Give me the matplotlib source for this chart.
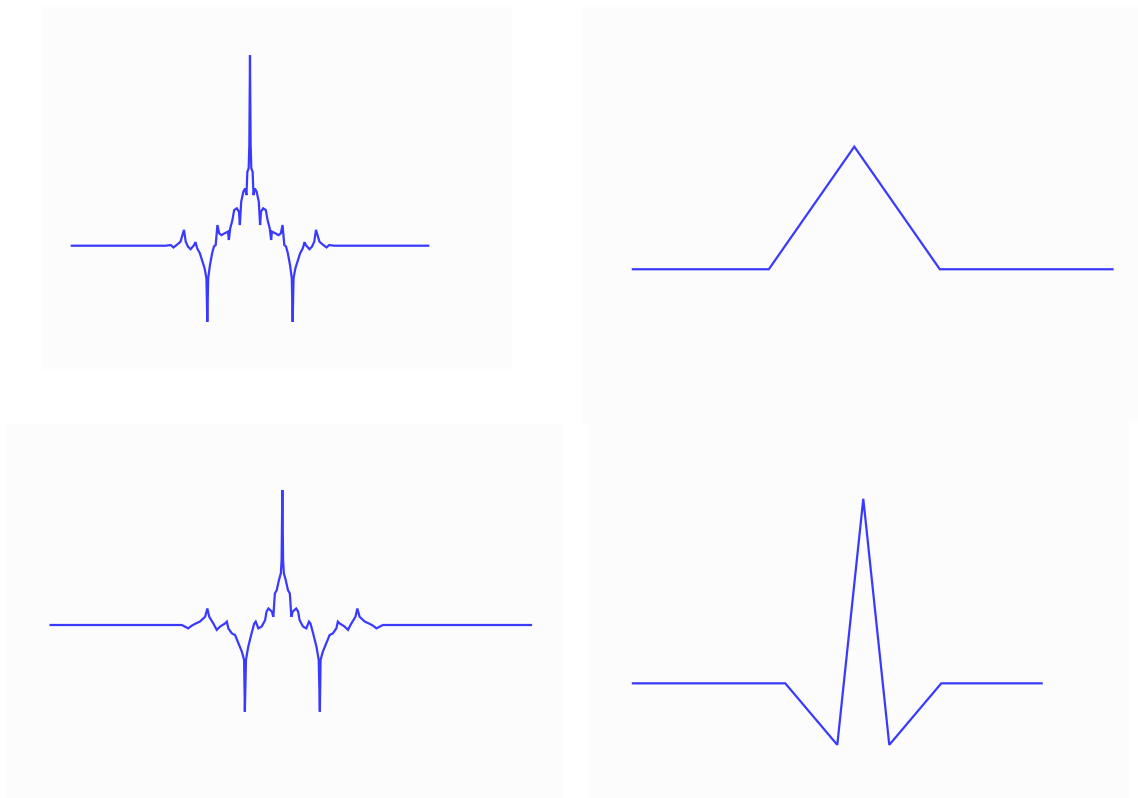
import numpy as np
import matplotlib
matplotlib.use("Agg")
import matplotlib.pyplot as plt

# dual scaling function (top left)
phi_d_x = [-4.05, -1.92, -1.80, -1.74, -1.65, -1.58, -1.50, -1.46, -1.41, -1.35, -1.27,
           -1.24, -1.20, -1.14, -1.08, -1.03, -0.99, -0.97, -0.95, -0.91, -0.86, -0.82,
           -0.78, -0.74, -0.70, -0.65, -0.58, -0.50, -0.48, -0.45, -0.40, -0.36, -0.30,
           -0.25, -0.23, -0.20, -0.15, -0.11, -0.08, -0.06, -0.03, -0.015, 0.0,
           0.015, 0.03, 0.06, 0.08, 0.11, 0.15, 0.20, 0.23, 0.25, 0.30, 0.36, 0.40,
           0.45, 0.48, 0.50, 0.58, 0.65, 0.70, 0.74, 0.78, 0.82, 0.86, 0.91, 0.95,
           0.97, 0.99, 1.03, 1.08, 1.14, 1.20, 1.24, 1.27, 1.35, 1.41, 1.46, 1.50,
           1.58, 1.65, 1.74, 1.80, 1.92, 4.05]
phi_d_y = [0.0, 0.0, 0.015, -0.04, 0.03, 0.09, 0.36, 0.09, -0.02, -0.08, 0.015,
           0.08, -0.06, -0.17, -0.36, -0.52, -0.74, -1.73, -0.74, -0.44, -0.17, -0.02,
           0.015, 0.47, 0.28, 0.24, 0.28, 0.32, 0.13, 0.39, 0.58, 0.81, 0.85,
           0.77, 0.47, 1.00, 1.23, 1.30, 1.15, 1.68, 1.76, 2.29, 4.33,
           2.29, 1.76, 1.68, 1.15, 1.30, 1.23, 1.00, 0.47, 0.77, 0.85, 0.81, 0.58,
           0.39, 0.13, 0.32, 0.28, 0.24, 0.28, 0.47, 0.015, -0.02, -0.17, -0.44, -0.74,
           -1.73, -0.74, -0.52, -0.36, -0.17, -0.06, 0.08, 0.015, -0.08, -0.02, 0.09, 0.36,
           0.09, 0.03, -0.04, 0.015, 0.0, 0.0]

# primal scaling function (top right): hat
phi_x = [-2.59, -1.0, 0.0, 1.0, 3.02]
phi_y = [0.0, 0.0, 1.0, 0.0, 0.0]

# dual wavelet (bottom left)
psi_d_x = [-6.18, -2.68, -2.51, -2.42, -2.33, -2.20, -2.06, -2.00, -1.95, -1.84, -1.75,
           -1.66, -1.53, -1.48, -1.44, -1.35, -1.26, -1.17, -1.08, -1.02, -1.00, -0.97,
           -0.91, -0.82, -0.75, -0.71, -0.64, -0.55, -0.46, -0.42, -0.37, -0.28, -0.24,
           -0.20, -0.15, -0.09, -0.04, -0.02, 0.0,
           0.02, 0.04, 0.09, 0.15, 0.20, 0.24, 0.28, 0.37, 0.42, 0.46, 0.55, 0.64,
           0.71, 0.75, 0.82, 0.91, 0.97, 1.00, 1.02, 1.08, 1.17, 1.26, 1.35, 1.44,
           1.48, 1.53, 1.66, 1.75, 1.84, 1.95, 2.00, 2.06, 2.20, 2.33, 2.42, 2.51,
           2.68, 6.63]
psi_d_y = [0.0, 0.0, -0.09, -0.02, 0.03, 0.09, 0.22, 0.44, 0.22, 0.04, -0.13,
           -0.04, 0.04, 0.09, -0.09, -0.22, -0.27, -0.49, -0.71, -0.93, -2.31, -0.93,
           -0.58, -0.22, 0.04, 0.09, -0.09, -0.04, 0.13, 0.36, 0.44, 0.36, 0.22,
           0.84, 0.93, 1.20, 1.38, 1.73, 3.60,
           1.73, 1.38, 1.20, 0.93, 0.84, 0.22, 0.36, 0.44, 0.36, 0.13, -0.04, -0.09,
           0.09, 0.04, -0.22, -0.58, -0.93, -2.31, -0.93, -0.71, -0.49, -0.27, -0.22, -0.09,
           0.09, 0.04, -0.04, -0.13, 0.04, 0.22, 0.44, 0.22, 0.09, 0.03, -0.02, -0.09,
           0.0, 0.0]

# primal wavelet (bottom right)
psi_x = [-4.43, -1.5, -0.5, 0.0, 0.5, 1.5, 3.43]
psi_y = [0.0, 0.0, -0.25, 0.75, -0.25, 0.0, 0.0]

W, H = 1138, 798
fig = plt.figure(figsize=(W / 100, H / 100), dpi=100)
fig.patch.set_facecolor("white")


def panel(px0, py0, px1, py1):
    # pixel box -> axes
    return fig.add_axes([px0 / W, 1 - py1 / H, (px1 - px0) / W, (py1 - py0) / H])


line_kw = dict(color="#3a3aff", lw=1.6, solid_joinstyle="miter")

panels = [
    ((42, 7, 512, 369), phi_d_x, phi_d_y, (-4.727, 5.955), (-2.802, 5.425)),
    ((582, 7, 1138, 423), phi_x, phi_y, (-3.185, 3.318), (-1.254, 2.139)),
    ((6, 424, 563, 798), psi_d_x, psi_d_y, (-7.37, 7.485), (-4.613, 5.36)),
    ((588, 423, 1129, 798), psi_x, psi_y, (-5.294, 5.11), (-0.466, 1.058)),
]

for box, xs, ys, xl, yl in panels:
    ax = panel(*box)
    ax.set_facecolor("#fcfcfc")
    ax.plot(xs, ys, **line_kw)
    ax.set_xlim(*xl)
    ax.set_ylim(*yl)
    ax.set_xticks([])
    ax.set_yticks([])
    for s in ax.spines.values():
        s.set_visible(False)

fig.savefig("out.png", dpi=100, facecolor="white")
